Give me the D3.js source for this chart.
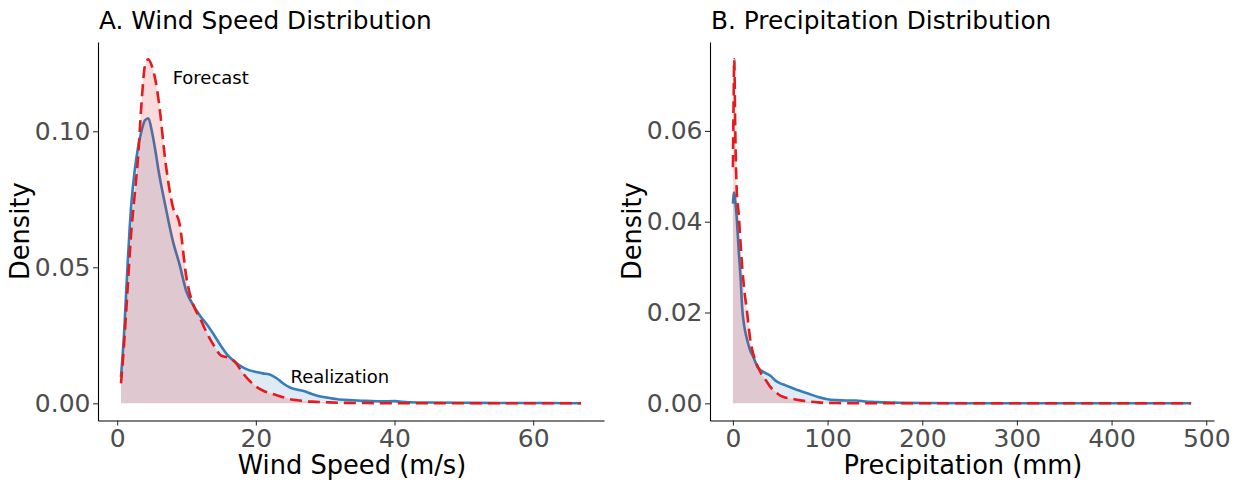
<!DOCTYPE html>
<html>
<head>
<meta charset="utf-8">
<script src="https://cdn.jsdelivr.net/npm/d3@7"></script>
<style>
  html, body { margin: 0; padding: 0; background: #ffffff; }
  svg { display: block; font-family: "DejaVu Sans", sans-serif; }
</style>
</head>
<body>
<svg id="chart" width="1237" height="483"></svg>
<script>
// ---------- data ----------
const windX = [0.55, 1, 1.5, 2, 2.5, 3, 3.5, 4, 4.5, 5, 5.5, 6, 7, 8, 9, 10, 11, 12, 13, 14, 15, 16, 17, 18, 19, 20, 21, 22, 23, 24, 25, 26, 27, 28, 29, 30, 32, 34, 36, 38, 40, 42, 45, 50, 55, 60, 66.9];
const windRealization = [0.0097, 0.026, 0.051, 0.072, 0.085, 0.094, 0.100, 0.104, 0.1048, 0.100, 0.093, 0.085, 0.072, 0.060, 0.051, 0.041, 0.036, 0.032, 0.0288, 0.025, 0.021, 0.0175, 0.0152, 0.0134, 0.0122, 0.0115, 0.011, 0.0106, 0.0092, 0.0072, 0.0057, 0.0050, 0.0044, 0.0035, 0.0027, 0.0022, 0.0014, 0.0011, 0.0009, 0.0007, 0.0008, 0.0004, 0.0003, 0.0002, 0.0001, 0.0001, 0.0000];
const windForecast = [0.0073, 0.022, 0.042, 0.062, 0.076, 0.090, 0.110, 0.124, 0.1265, 0.124, 0.119, 0.111, 0.088, 0.0725, 0.066, 0.046, 0.036, 0.031, 0.0255, 0.021, 0.0175, 0.0168, 0.0152, 0.0115, 0.0085, 0.0062, 0.0047, 0.0037, 0.0030, 0.0022, 0.0015, 0.0011, 0.0008, 0.0006, 0.0005, 0.0004, 0.0002, 0.0001, 0.0001, 0.0000, 0.0000, 0.0000, 0.0000, 0.0000, 0.0000, 0.0000, 0.0000];

const precipX = [0, 0.7, 1.4, 2.5, 4, 6, 8, 10, 12, 15, 18, 22, 26, 30, 35, 40, 45, 50, 55, 60, 70, 80, 90, 100, 110, 120, 130, 140, 150, 160, 170, 180, 200, 250, 300, 350, 400, 450, 484];
const precipRealization = [0.0440, 0.0458, 0.0464, 0.0445, 0.0410, 0.0340, 0.0280, 0.0205, 0.0170, 0.0140, 0.0118, 0.0100, 0.0080, 0.0072, 0.0066, 0.0060, 0.0050, 0.0044, 0.0040, 0.0036, 0.0028, 0.0021, 0.0014, 0.0009, 0.0007, 0.0006, 0.0006, 0.0004, 0.0003, 0.0002, 0.00015, 0.0001, 0.00005, 0.00002, 0.00001, 0, 0, 0, 0];
const precipForecast = [0.052, 0.066, 0.0758, 0.060, 0.047, 0.042, 0.0355, 0.0295, 0.025, 0.020, 0.0145, 0.0105, 0.0082, 0.0065, 0.0050, 0.0035, 0.0025, 0.0017, 0.0013, 0.0011, 0.0007, 0.0004, 0.0002, 0.0001, 0.00005, 0.00003, 0.00002, 0.00001, 0, 0, 0, 0, 0, 0, 0, 0, 0, 0, 0];

const windXTicks = [0, 20, 40, 60];
const windYTicks = [0, 0.05, 0.10];
const precipXTicks = [0, 100, 200, 300, 400, 500];
const precipYTicks = [0, 0.02, 0.04, 0.06];

const panels = [
  { title: "A. Wind Speed Distribution", xLabel: "Wind Speed (m/s)", x: windX, real: windRealization, fore: windForecast,
    xTicks: windXTicks, yTicks: windYTicks, left: 98, right: 604,
    notes: [{ text: "Forecast", x: 8.0, y: 0.1175 }, { text: "Realization", x: 25.0, y: 0.0073 }] },
  { title: "B. Precipitation Distribution", xLabel: "Precipitation (mm)", x: precipX, real: precipRealization, fore: precipForecast,
    xTicks: precipXTicks, yTicks: precipYTicks, left: 710, right: 1214, notes: [] }
];

const plotTop = 42, plotBottom = 420.5;
const svg = d3.select("#chart");
const RED = "#E41A1C", BLUE = "#377EB8";

panels.forEach(p => {
  const xmin = d3.min(p.x), xmax = d3.max(p.x);
  const xr = xmax - xmin;
  const x = d3.scaleLinear().domain([xmin - 0.05 * xr, xmax + 0.05 * xr]).range([p.left, p.right]);
  const ymax = d3.max(p.real.concat(p.fore));
  const y = d3.scaleLinear().domain([-0.05 * ymax, ymax * 1.05]).range([plotBottom, plotTop]);

  const g = svg.append("g");
  const realData = p.x.map((v, i) => [v, p.real[i]]);
  const foreData = p.x.map((v, i) => [v, p.fore[i]]);

  const area = d3.area().x(d => x(d[0])).y0(y(0)).y1(d => y(d[1])).curve(d3.curveMonotoneX);
  const line = d3.line().x(d => x(d[0])).y(d => y(d[1])).curve(d3.curveMonotoneX);

  g.append("path").attr("d", area(realData)).attr("fill", BLUE).attr("fill-opacity", 0.16);
  g.append("path").attr("d", line(realData)).attr("fill", "none").attr("stroke", BLUE).attr("stroke-width", 2.6);
  g.append("path").attr("d", area(foreData)).attr("fill", RED).attr("fill-opacity", 0.16);
  g.append("path").attr("d", line(foreData)).attr("fill", "none").attr("stroke", RED).attr("stroke-width", 2.6)
    .attr("stroke-dasharray", "12,6");

  // axes
  const xa = g.append("g").attr("transform", `translate(0,${plotBottom})`)
    .call(d3.axisBottom(x).tickValues(p.xTicks).tickFormat(d3.format("d")).tickSize(5).tickSizeOuter(0).tickPadding(3.5));
  const ya = g.append("g").attr("transform", `translate(${p.left},0)`)
    .call(d3.axisLeft(y).tickValues(p.yTicks).tickFormat(d3.format(".2f")).tickSize(5).tickSizeOuter(0).tickPadding(2.5));
  [xa, ya].forEach(a => {
    a.select(".domain").attr("stroke", "#000").attr("stroke-width", 1.1);
    a.selectAll(".tick line").attr("stroke", "#333").attr("stroke-width", 1.1);
    a.selectAll(".tick text").attr("fill", "#4d4d4d").style("font-size", "25px").style("font-family", "DejaVu Sans");
  });

  // titles
  svg.append("text").attr("x", p.left + 1).attr("y", 29).text(p.title)
    .style("font-size", "24.8px").attr("fill", "#000");
  svg.append("text").attr("x", (p.left + p.right) / 2 + 1).attr("y", 474).attr("text-anchor", "middle")
    .text(p.xLabel).style("font-size", "25.7px").attr("fill", "#000");
  svg.append("text").attr("transform", `translate(${p.left - 69.5},${(plotTop + plotBottom) / 2}) rotate(-90)`)
    .attr("text-anchor", "middle").text("Density").style("font-size", "25.7px").attr("fill", "#000");

  p.notes.forEach(n => {
    svg.append("text").attr("x", x(n.x)).attr("y", y(n.y)).text(n.text)
      .style("font-size", "18px").attr("fill", "#000");
  });
});
</script>
</body>
</html>
